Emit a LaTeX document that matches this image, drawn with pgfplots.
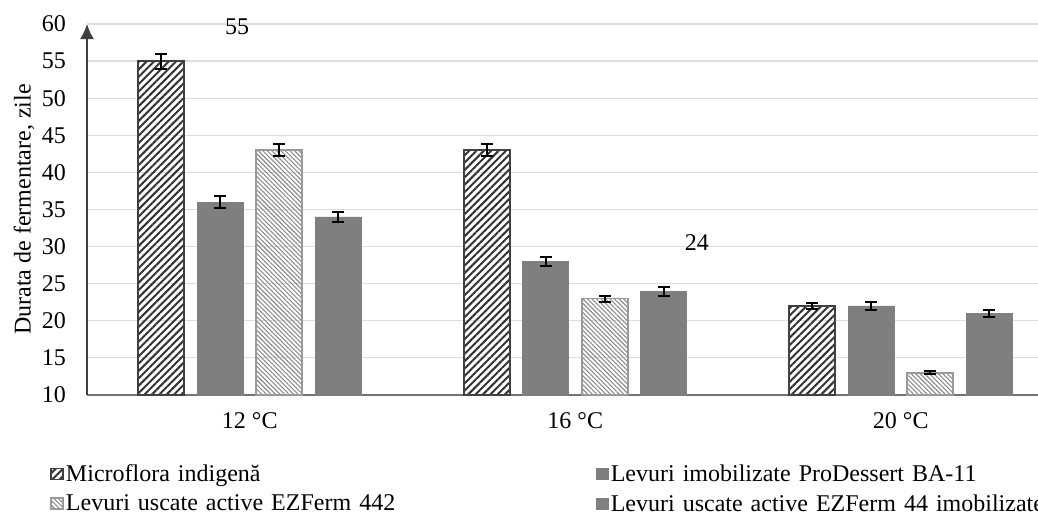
\documentclass[border=0pt]{standalone}
\usepackage{pgfplots}
\pgfplotsset{compat=1.18}
\usepackage{fontspec}
\setmainfont{Liberation Serif}
\usetikzlibrary{patterns.meta, arrows.meta}
\definecolor{dgray}{HTML}{7F7F7F}
\begin{document}
\begin{tikzpicture}
\begin{axis}[
  at={(43.5pt,61pt)}, anchor=south west,
  scale only axis, width=480.1pt, height=185.5pt,
  xmin=-0.5, xmax=2.45, ymin=10, ymax=60,
  clip=false,
  ytick={10,15,...,60},
  xtick={0,1,2}, xticklabels={12 °C,16 °C,20 °C},
  axis x line=bottom, axis y line=left,
  x axis line style={-, draw=black!55, line width=0.8pt},
  y axis line style={-{Latex[length=7.5pt,width=7pt]}, draw=black!75, line width=0.8pt},
  ymajorgrids, grid style={draw=black!13, line width=0.6pt},
  major tick length=0pt,
  tick label style={font=\fontsize{12}{14}\selectfont},
  yticklabel style={xshift=-7pt},
  xticklabel style={yshift=-5pt},
  /pgf/number format/assume math mode=true,
  ylabel={Durata de fermentare, zile},
  ylabel style={font=\fontsize{12}{14}\selectfont, yshift=-3pt},
  ybar=6.5pt, bar width=23pt,
  error bars/error bar style={line width=1pt, black},
  error bars/error mark options={rotate=90, mark size=3pt, line width=1pt, black},
  legend columns=2,
  legend cell align=left,
  legend style={at={(axis description cs:-0.045,-0.17)}, anchor=north west,
    draw=none, fill=none, font=\fontsize{12}{14}\selectfont,
    nodes={text width=264pt, inner sep=1pt}, row sep=3pt},
  legend image code/.code={\draw[#1] (0pt,-2.5pt) rectangle (6pt,3pt);},
]
\addplot[draw=black!75, line width=0.9pt, fill=white,
  pattern={Lines[angle=45,distance=2.6pt,line width=1pt]}, pattern color=black!80,
  error bars/.cd, y dir=both, y explicit]
  coordinates {(0,55) +- (0,1) (1,43) +- (0,0.8) (2,22) +- (0,0.4)};
\addlegendentry{Microflora indigenă}
\addplot[draw=dgray, fill=dgray,
  error bars/.cd, y dir=both, y explicit]
  coordinates {(0,36) +- (0,0.8) (1,28) +- (0,0.6) (2,22) +- (0,0.5)};
\addlegendentry{Levuri imobilizate ProDessert BA-11}
\addplot[draw=black!40, line width=0.8pt,
  pattern={Lines[angle=-45,distance=1.6pt,line width=0.55pt]}, pattern color=black!45,
  error bars/.cd, y dir=both, y explicit]
  coordinates {(0,43) +- (0,0.8) (1,23) +- (0,0.4) (2,13) +- (0,0.2)};
\addlegendentry{Levuri uscate active EZFerm 442}
\addplot[draw=dgray, fill=dgray,
  error bars/.cd, y dir=both, y explicit]
  coordinates {(0,34) +- (0,0.7) (1,24) +- (0,0.6) (2,21) +- (0,0.5)};
\addlegendentry{Levuri uscate active EZFerm 44 imobilizate}
\node[font=\fontsize{12}{14}\selectfont] at (axis cs:-0.039,59.6) {55};
\node[font=\fontsize{12}{14}\selectfont] at (axis cs:1.374,30.5) {24};
\end{axis}
\pgfresetboundingbox
\path (0,0) rectangle (519pt,258.5pt);
\end{tikzpicture}
\end{document}
